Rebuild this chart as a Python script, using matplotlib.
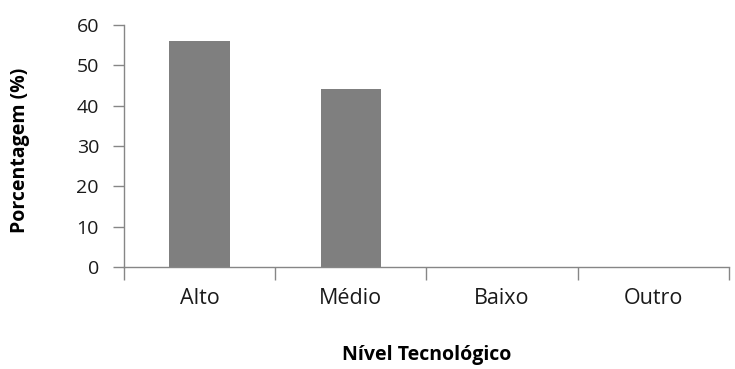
import numpy as np
import matplotlib.pyplot as plt

# data
categorias = ["Alto", "Médio", "Baixo", "Outro"]
porcentagem = [56, 44, 0, 0]
y_ticks = [0, 10, 20, 30, 40, 50, 60]

plt.rcParams['font.family'] = ['Open Sans', 'DejaVu Sans']

fig = plt.figure(figsize=(7.35, 3.69), dpi=100)
ax = fig.add_axes([0.1687, 0.2764, 0.823, 0.656])

x = np.arange(len(categorias))
ax.bar(x, porcentagem, width=0.4, color="#7f7f7f")

ax.set_xlim(-0.5, len(categorias) - 0.5)
ax.set_ylim(0, 60)
ax.set_yticks(y_ticks)

# category labels centred, tick marks on the boundaries
ax.set_xticks(x)
ax.set_xticklabels(categorias)
ax.set_xticks(np.arange(len(categorias) + 1) - 0.5, minor=True)
ax.tick_params(axis="x", which="major", length=0, pad=15, labelsize=15.5, colors="#1a1a1a")
ax.tick_params(axis="x", which="minor", length=9, color="#868686", width=1)
ax.tick_params(axis="y", length=8, color="#868686", width=1, labelsize=14,
               labelcolor="#1a1a1a", pad=10)

for s in ["top", "right"]:
    ax.spines[s].set_visible(False)
for s in ["left", "bottom"]:
    ax.spines[s].set_color("#868686")
    ax.spines[s].set_linewidth(1)

ax.set_ylabel("Porcentagem (%)", fontsize=14, fontweight="bold", va="center")
ax.yaxis.set_label_coords(-0.172, 0.48)
ax.set_xlabel("Nível Tecnológico", fontsize=14, fontweight="bold", va="center")
ax.xaxis.set_label_coords(0.5, -0.364)

fig.savefig("out.png", dpi=100)
